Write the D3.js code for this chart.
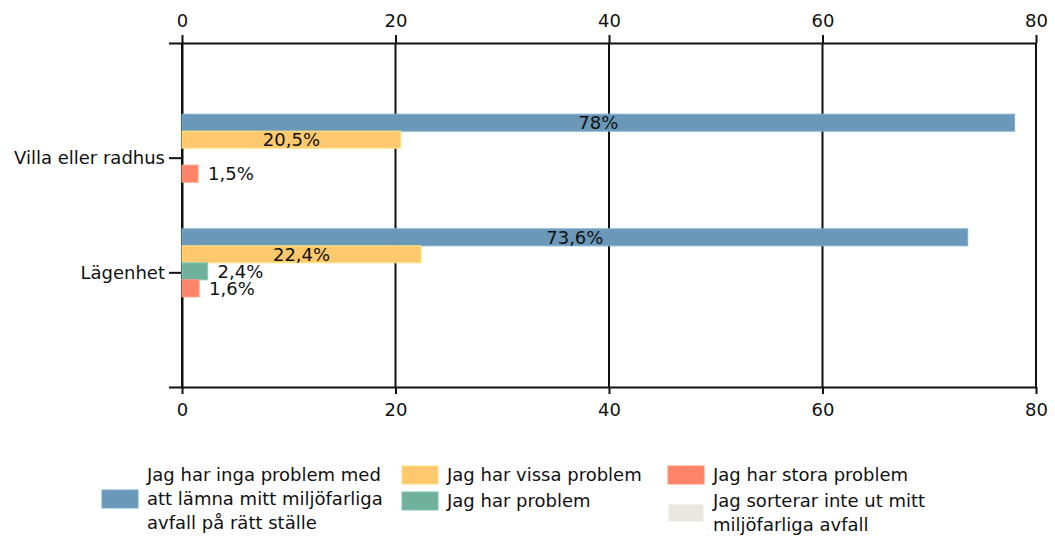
<!DOCTYPE html>
<html>
<head>
<meta charset="utf-8">
<script src="https://cdn.jsdelivr.net/npm/d3@7"></script>
<style>
  body { margin: 0; background: #fff; }
  text { font-family: "DejaVu Sans", Verdana, sans-serif; font-size: 18px; fill: #111; }
</style>
</head>
<body>
<div id="chart"></div>
<script>
let width = 1055;
let height = 541;

// data
let categories = ["Villa eller radhus", "Lägenhet"];
let seriesNames = [
    "Jag har inga problem med att lämna mitt miljöfarliga avfall på rätt ställe",
    "Jag har vissa problem",
    "Jag har problem",
    "Jag har stora problem",
    "Jag sorterar inte ut mitt miljöfarliga avfall"
];
let seriesColors = ["#6b97b8", "#fec86f", "#70b19c", "#ff8368", "#e9e7df"];
let villaValues = [78, 20.5, null, 1.5, null];
let lagenhetValues = [73.6, 22.4, 2.4, 1.6, null];
let xTicks = [0, 20, 40, 60, 80];

let values = [villaValues, lagenhetValues];

let margin = {top: 43, right: 19, bottom: 154, left: 182};
let plotW = width - margin.left - margin.right;
let plotH = height - margin.top - margin.bottom;

let svg = d3.select("#chart").append("svg")
    .attr("width", width)
    .attr("height", height);

let g = svg.append("g")
    .attr("transform", "translate(" + margin.left + "," + margin.top + ")");

let x = d3.scaleLinear().domain([0, 80]).range([0, plotW]);
let y = d3.scalePoint().domain(categories).range([0, plotH]).padding(1);
let groupH = 85;
let ys = d3.scaleBand().domain(d3.range(seriesNames.length)).range([-groupH / 2 - 1, groupH / 2 - 1]);

let sv = d3.formatLocale({decimal: ",", thousands: " ", grouping: [3], currency: ["", " kr"]}).format(".1~f");

// gridlines
g.selectAll("line.grid")
    .data(xTicks)
    .join("line")
    .attr("class", "grid")
    .attr("x1", d => x(d))
    .attr("x2", d => x(d))
    .attr("y1", 0)
    .attr("y2", plotH)
    .attr("stroke", "#111")
    .attr("stroke-width", 2);

// axes
let topAxis = g.append("g")
    .call(d3.axisTop(x).tickValues(xTicks).tickSize(8).tickSizeOuter(0).tickPadding(8));
let bottomAxis = g.append("g")
    .attr("transform", "translate(0," + plotH + ")")
    .call(d3.axisBottom(x).tickValues(xTicks).tickSize(7).tickSizeOuter(0).tickPadding(9));
let leftAxis = g.append("g")
    .call(d3.axisLeft(y).tickSize(13).tickSizeOuter(13).tickPadding(4));

[topAxis, bottomAxis, leftAxis].forEach(a => {
    a.attr("font-family", null).attr("font-size", null);
    a.selectAll("path, line").attr("stroke", "#111").attr("stroke-width", 2);
    a.selectAll("text").attr("fill", "#111");
});

// bars
categories.forEach((cat, ci) => {
    let row = g.append("g").attr("transform", "translate(0," + y(cat) + ")");
    values[ci].forEach((v, si) => {
        if (v == null) return;
        row.append("rect")
            .attr("x", x(0))
            .attr("y", ys(si))
            .attr("width", x(v) - x(0))
            .attr("height", ys.bandwidth())
            .attr("fill", seriesColors[si])
            .attr("stroke", d3.color(seriesColors[si]).brighter(0.4))
            .attr("stroke-width", 1);
        let label = row.append("text")
            .attr("y", ys(si) + ys.bandwidth() / 2)
            .attr("dominant-baseline", "central")
            .text(sv(v) + "%");
        let lw = label.node().getComputedTextLength();
        if (x(v) - x(0) > lw + 6) {
            label.attr("x", (x(0) + x(v)) / 2).attr("text-anchor", "middle");
        } else {
            label.attr("x", x(v) + 10).attr("text-anchor", "start");
        }
    });
});

// legend
let legendCols = [[0], [1, 2], [3, 4]];
let colX = [102, 402, 668];
let lineH = 24;
let wrapW = 255;

function wrapLines(txt) {
    let words = txt.split(" ");
    let probe = svg.append("text");
    let lines = [];
    let cur = "";
    words.forEach(w => {
        let test = cur ? cur + " " + w : w;
        probe.text(test);
        if (probe.node().getComputedTextLength() > wrapW && cur) {
            lines.push(cur);
            cur = w;
        } else {
            cur = test;
        }
    });
    lines.push(cur);
    probe.remove();
    return lines;
}

let legend = svg.append("g");
legendCols.forEach((col, c) => {
    let baseY = 481;
    col.forEach(si => {
        let lines = wrapLines(seriesNames[si]);
        let item = legend.append("g");
        let t = item.append("text")
            .attr("x", colX[c] + 45)
            .attr("y", baseY);
        lines.forEach((ln, li) => {
            t.append("tspan")
                .attr("x", colX[c] + 45)
                .attr("y", baseY + li * lineH)
                .text(ln);
        });
        let mid = baseY - 6 + (lines.length - 1) * lineH / 2;
        item.append("rect")
            .attr("x", colX[c])
            .attr("y", mid - 9)
            .attr("width", 36)
            .attr("height", 18)
            .attr("fill", seriesColors[si])
            .attr("stroke", d3.color(seriesColors[si]).brighter(0.3))
            .attr("stroke-width", 1);
        baseY += lines.length * lineH + 2;
    });
});
</script>
</body>
</html>
